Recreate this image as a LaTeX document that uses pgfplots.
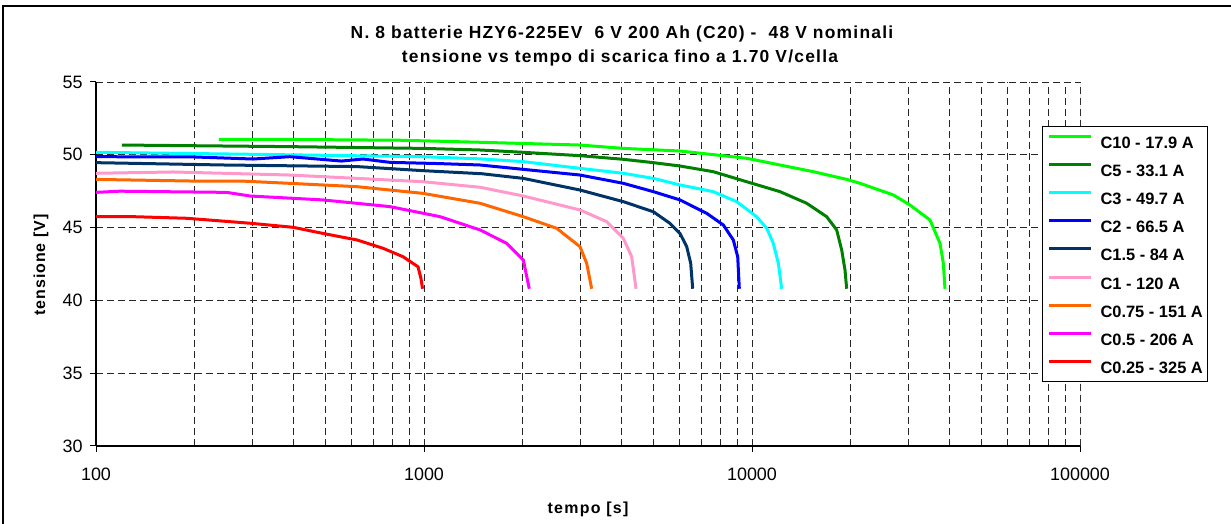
\documentclass[border=0pt]{standalone}
\usepackage{pgfplots}
\pgfplotsset{compat=1.18}
\usepackage{fontspec}
\setmainfont{Liberation Sans}

\definecolor{cten}{HTML}{00FF00}
\definecolor{cfive}{HTML}{008000}
\definecolor{cthree}{HTML}{00FFFF}
\definecolor{ctwo}{HTML}{0000FF}
\definecolor{conefive}{HTML}{003366}
\definecolor{cone}{HTML}{FF99CC}
\definecolor{cseventyfive}{HTML}{FF6600}
\definecolor{chalf}{HTML}{FF00FF}
\definecolor{cquarter}{HTML}{FF0000}

\begin{document}
\begin{tikzpicture}
\path[use as bounding box] (0,0) rectangle (1231bp,524bp);
% outer chart frame
\draw[line width=1.3bp] (3bp,-5bp) -- (3bp,518bp) -- (1240bp,518bp);

\node[font=\fontsize{17.5}{20}\selectfont\bfseries\addfontfeature{LetterSpace=7}] at (622bp,490bp)
  {N. 8 batterie HZY6-225EV\ \ 6 V 200 Ah (C20) -\ \ 48 V nominali};
\node[font=\fontsize{17.5}{20}\selectfont\bfseries\addfontfeature{LetterSpace=7}] at (620bp,466bp)
  {tensione vs tempo di scarica fino a 1.70 V/cella};
\node[font=\fontsize{16}{18}\selectfont\bfseries\addfontfeature{LetterSpace=8}] at (588bp,15bp) {tempo [s]};
\node[font=\fontsize{16}{18}\selectfont\bfseries\addfontfeature{LetterSpace=6}, rotate=90] at (41bp,259bp) {tensione [V]};

\begin{axis}[
  at={(96bp,78bp)}, anchor=south west,
  scale only axis, width=984bp, height=364bp,
  xmode=log, xmin=100, xmax=100000, ymin=30, ymax=55,
  axis x line*=bottom, axis y line*=left,
  axis line style={line width=1.2bp, black, -},
  xtick={100,1000,10000,100000},
  xticklabels={100,1000,10000,100000},
  minor xtick={200,300,400,500,600,700,800,900,2000,3000,4000,5000,6000,7000,8000,9000,20000,30000,40000,50000,60000,70000,80000,90000},
  ytick={30,35,40,45,50,55},
  yticklabels={30,35,40,45,50,55},
  tick align=outside, major tick length=6bp, minor tick length=0pt,
  tick style={black, line width=1bp},
  ticklabel style={font=\fontsize{18}{20}\selectfont},
  xticklabel style={yshift=-12bp},
  yticklabel style={xshift=-4bp},
  grid=both,
  major grid style={black!85, line width=0.9bp, dash pattern=on 7bp off 4bp},
  minor grid style={black!85, line width=0.9bp, dash pattern=on 7bp off 4bp},
  every axis plot/.append style={line width=3bp, no markers},
  legend style={at={(0.9614,0.879)}, anchor=north west, draw=black, line width=1bp,
    fill=white, inner xsep=5bp, inner ysep=8.5bp, row sep=14.6bp,
    font=\fontsize{16.5}{18}\selectfont\bfseries,
    nodes={inner sep=0pt, text height=12bp, text depth=0bp},
    column sep=8bp},
  legend cell align=left,
  legend image code/.code={\draw[#1, line width=3bp] (0bp,6bp) -- (42bp,6bp);},
]
\draw[black!55, line width=1bp] (rel axis cs:1,0) -- (rel axis cs:1,1);

\addplot[color=cten] coordinates {
 (237,51.06) (419,51.05) (845,51.0) (1482,50.86) (2990,50.67) (4053,50.44)
 (6032,50.26) (9634,49.76) (15380,48.84) (19440,48.31) (21350,48.04)
 (26970,47.24) (30320,46.55) (34890,45.52) (37430,43.92) (38310,42.55) (38770,40.8)};
\addlegendentry{C10 - 17.9 A}

\addplot[color=cfive] coordinates {
 (120,50.67) (390,50.56) (993,50.44) (1482,50.33) (2008,50.17) (2990,49.94)
 (4053,49.69) (5002,49.46) (6032,49.23) (7621,48.84) (9634,48.15) (12170,47.47)
 (14680,46.67) (16890,45.75) (18120,44.84) (18770,43.46) (19210,42.09) (19440,40.8)};
\addlegendentry{C5 - 33.1 A}

\addplot[color=cthree] coordinates {
 (100,50.17) (310,50.03) (993,49.87) (1482,49.72) (2008,49.53) (2990,49.07)
 (4053,48.73) (5002,48.38) (6032,47.93) (7621,47.47) (8983,46.78) (10330,45.75)
 (11090,44.95) (11610,43.92) (12030,42.55) (12320,40.8)};
\addlegendentry{C3 - 49.7 A}

\addplot[color=ctwo] coordinates {
 (100,49.87) (200,49.85) (301,49.71) (390,49.87) (560,49.57) (652,49.71)
 (788,49.48) (1100,49.4) (1482,49.30) (2008,49.0) (2990,48.61) (4053,48.04)
 (5002,47.47) (6032,46.9) (7277,45.98) (8175,45.18) (8770,44.15) (9045,43.0) (9148,40.8)};
\addlegendentry{C2 - 66.5 A}

\addplot[color=conefive] coordinates {
 (100,49.46) (244,49.3) (625,49.19) (993,48.91) (1500,48.7) (2008,48.38)
 (2990,47.58) (4053,46.78) (5002,46.09) (5623,45.29) (6032,44.6) (6323,43.69)
 (6503,42.55) (6595,40.8)};
\addlegendentry{C1.5 - 84 A}

\addplot[color=cone] coordinates {
 (100,48.73) (172,48.82) (390,48.61) (625,48.38) (993,48.15) (1482,47.77)
 (2008,47.17) (2990,46.21) (3606,45.41) (4053,44.26) (4297,43.0) (4430,40.8)};
\addlegendentry{C1 - 120 A}

\addplot[color=cseventyfive] coordinates {
 (100,48.31) (193,48.2) (275,48.2) (390,48.04) (625,47.81) (993,47.35)
 (1482,46.67) (2008,45.75) (2538,44.95) (2990,43.69) (3133,42.55) (3245,40.8)};
\addlegendentry{C0.75 - 151 A}

\addplot[color=chalf] coordinates {
 (100,47.42) (118,47.5) (250,47.42) (295,47.17) (492,46.9) (788,46.44)
 (1119,45.75) (1482,44.84) (1787,43.92) (2008,42.77) (2094,40.8)};
\addlegendentry{C0.5 - 206 A}

\addplot[color=cquarter] coordinates {
 (100,45.75) (130,45.75) (189,45.64) (295,45.3) (399,45.02) (492,44.6)
 (625,44.15) (750,43.58) (863,43.0) (959,42.31) (979,41.5) (990,40.8)};
\addlegendentry{C0.25 - 325 A}
\end{axis}
\end{tikzpicture}
\end{document}
